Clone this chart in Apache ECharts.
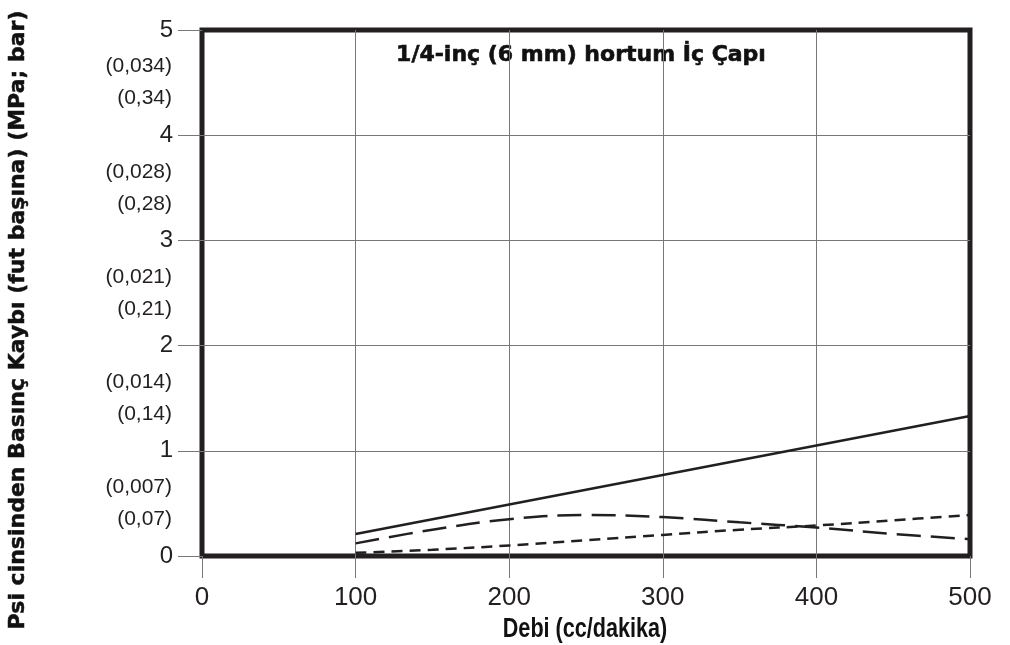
<!DOCTYPE html>
<html><head><meta charset="utf-8">
<script src="https://cdn.jsdelivr.net/npm/echarts@6/dist/echarts.min.js"></script>
<style>html,body{margin:0;padding:0;background:#fff}#c{width:1010px;height:645px}</style>
</head><body><div id="c"></div>
<script>
const flowCc = [100, 150, 200, 250, 300, 350, 400, 450, 500];
const solidLoss = [0.21, 0.35, 0.49, 0.63, 0.77, 0.91, 1.05, 1.19, 1.33];
const longDashLoss = [0.12, 0.25, 0.35, 0.39, 0.37, 0.32, 0.27, 0.21, 0.16];
const shortDashLoss = [0.03, 0.06, 0.10, 0.15, 0.20, 0.25, 0.29, 0.34, 0.39];
const psiTicks = ['0', '1', '2', '3', '4', '5'];
const mpaLabels = ['(0,007)', '(0,014)', '(0,021)', '(0,028)', '(0,034)'];
const barLabels = ['(0,07)', '(0,14)', '(0,21)', '(0,28)', '(0,34)'];
const titleText = '1/4-inç (6 mm) hortum İç Çapı';
const xName = 'Debi (cc/dakika)';
const yName = 'Psi cinsinden Basınç Kaybı (fut başına) (MPa; bar)';

const ink = '#231f20';
const font = 'Liberation Sans, Arial, sans-serif';
const boldWide = 'DejaVu Sans, Liberation Sans, sans-serif';
const pairs = a => flowCc.map((x, i) => [x, a[i]]);

const chart = echarts.init(document.getElementById('c'));
chart.setOption({
  animation: false,
  backgroundColor: '#fff',
  grid: { left: 202, right: 40, top: 30, bottom: 89, show: true, borderColor: ink, borderWidth: 5, backgroundColor: 'transparent' },
  xAxis: {
    type: 'value', min: 0, max: 500, interval: 100,
    axisLine: { show: false },
    axisTick: { show: true, length: 22, lineStyle: { color: '#777', width: 1 } },
    axisLabel: { fontFamily: font, fontSize: 26, color: ink, margin: 29 },
    splitLine: { show: true, showMinLine: false, showMaxLine: false, lineStyle: { color: '#777', width: 1 } }
  },
  yAxis: [{
    type: 'value', min: 0, max: 5, interval: 1, position: 'left',
    axisLine: { show: false },
    axisTick: { show: true, length: 24, lineStyle: { color: '#777', width: 1 } },
    axisLabel: { fontFamily: font, fontSize: 24, color: ink, margin: 29,
      formatter: v => psiTicks[Math.round(v)] },
    splitLine: { show: true, showMinLine: false, showMaxLine: false, lineStyle: { color: '#777', width: 1 } }
  }, {
    type: 'value', min: 0, max: 5, interval: 0.5, position: 'left',
    axisLine: { show: false }, axisTick: { show: false }, splitLine: { show: false },
    axisLabel: { fontFamily: font, fontSize: 21, color: ink, margin: 30, lineHeight: 32,
      formatter: v => {
        const k = Math.round(v * 2);
        if (k % 2 === 0) return '';
        const i = (k - 1) / 2;
        return mpaLabels[i] + '\n' + barLabels[i];
      } }
  }],
  graphic: [{
    type: 'text', x: 581, y: 55,
    style: { text: titleText, fontFamily: boldWide, fontSize: 22, fontWeight: 'bold', fill: '#111', stroke: '#111', lineWidth: 0.6, align: 'center', verticalAlign: 'middle' }
  }, {
    type: 'text', x: 18, y: 320, rotation: Math.PI / 2,
    style: { text: yName, fontFamily: boldWide, fontSize: 22, fontWeight: 'bold', fill: '#111', stroke: '#111', lineWidth: 0.5, align: 'center', verticalAlign: 'middle' }
  }, {
    type: 'text', x: 585, y: 630, scaleX: 0.8,
    style: { text: xName, fontFamily: font, fontSize: 27, fontWeight: 'bold', fill: '#111', align: 'center', verticalAlign: 'middle' }
  }],
  series: [{
    type: 'line', data: pairs(solidLoss), showSymbol: false, smooth: false,
    lineStyle: { color: ink, width: 2.5, type: 'solid' }
  }, {
    type: 'line', data: pairs(longDashLoss), showSymbol: false, smooth: 0.4,
    lineStyle: { color: ink, width: 2.5, type: [24, 10] }
  }, {
    type: 'line', data: pairs(shortDashLoss), showSymbol: false, smooth: 0.4,
    lineStyle: { color: ink, width: 2.5, type: [11, 7] }
  }]
});
</script>
</body></html>
